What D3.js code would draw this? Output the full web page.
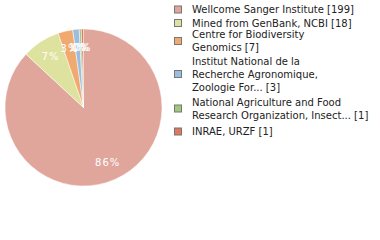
<!DOCTYPE html>
<html>
<head>
<meta charset="utf-8">
<script src="https://cdn.jsdelivr.net/npm/d3@7"></script>
<style>
body { margin: 0; background: #fff; }
text { font-family: "DejaVu Sans", sans-serif; }
</style>
</head>
<body>
<div id="chart"></div>
<script>
// data
const names = ["Wellcome Sanger Institute", "Mined from GenBank, NCBI", "Centre for Biodiversity Genomics",
  "Institut National de la Recherche Agronomique, Zoologie For...", "National Agriculture and Food Research Organization, Insect...", "INRAE, URZF"];
const counts = [199, 18, 7, 3, 1, 1];
const legendLines = [["Wellcome Sanger Institute [199]"], ["Mined from GenBank, NCBI [18]"], ["Centre for Biodiversity", "Genomics [7]"],
  ["Institut National de la", "Recherche Agronomique,", "Zoologie For... [3]"], ["National Agriculture and Food", "Research Organization, Insect... [1]"], ["INRAE, URZF [1]"]];
const colors = ["#e0a69c", "#dde39e", "#f0aa70", "#9cbde0", "#9ec97a", "#e0775c"];

let width = 380, height = 240;
let svg = d3.select("#chart").append("svg").attr("width", width).attr("height", height);

let total = d3.sum(counts);
let array = counts.map((c, i) => ({ name: names[i], value: c, color: colors[i] }));

let pie = d3.pie().value(d => d.value).sort(null);
let radius = 78.5;
let arc = d3.arc().innerRadius(0).outerRadius(radius);
let labelArc = d3.arc().innerRadius(radius * 0.77).outerRadius(radius * 0.77);

let g = svg.append("g").attr("transform", "translate(83.5,107.5)");
let arcs = pie(array);

g.selectAll(".slice")
  .data(arcs)
  .enter()
  .append("path")
  .attr("class", "slice")
  .attr("d", arc)
  .attr("fill", d => d.data.color)
  .attr("stroke", "#ffffff")
  .attr("stroke-width", 0.5);

g.selectAll(".plabel")
  .data(arcs)
  .enter()
  .append("text")
  .attr("class", "plabel")
  .attr("transform", d => "translate(" + labelArc.centroid(d) + ")")
  .attr("text-anchor", "middle")
  .attr("dy", "0.35em")
  .style("font-size", "10px")
  .style("letter-spacing", "1px")
  .attr("fill", "#ffffff")
  .text(d => Math.floor(d.data.value / total * 100) + "%");

// legend
const swatchY = [9.5, 23, 41, 74, 108.5, 131.5];
const lineH = 13;
let lg = svg.append("g");
legendLines.forEach((lines, i) => {
  lg.append("rect")
    .attr("x", 174.5).attr("y", swatchY[i] - 3.5)
    .attr("width", 7).attr("height", 7)
    .attr("fill", colors[i])
    .attr("stroke", "#777").attr("stroke-width", 1);
  let t = lg.append("text")
    .attr("x", 192)
    .style("font-size", "10px")
    .attr("fill", "#222");
  lines.forEach((s, j) => {
    t.append("tspan")
      .attr("x", 192)
      .attr("y", swatchY[i] + (j - (lines.length - 1) / 2) * lineH)
      .attr("dy", "0.35em")
      .text(s);
  });
});
</script>
</body>
</html>
